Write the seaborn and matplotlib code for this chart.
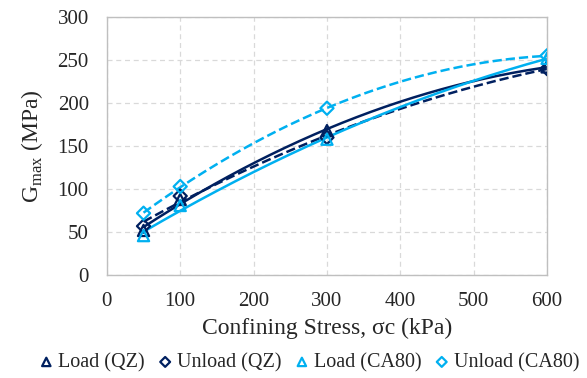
import numpy as np
import pandas as pd
import seaborn as sns
import matplotlib.pyplot as plt

stress = [50, 100, 300, 600]
load_qz = [52, 88, 168, 242]
unload_qz = [57, 92, 160, 240]
load_ca80 = [46, 81, 158, 252]
unload_ca80 = [72, 103, 194, 255]

series = ["Load (QZ)", "Unload (QZ)", "Load (CA80)", "Unload (CA80)"]
colors = ["#002060", "#002060", "#00B0F0", "#00B0F0"]
markers = ["^", "D", "^", "D"]
trend_styles = ["-", "--", "-", "--"]


def build_frame():
    df = pd.DataFrame({
        "stress": stress * 4,
        "gmax": load_qz + unload_qz + load_ca80 + unload_ca80,
        "series": np.repeat(series, len(stress)),
    })
    return df


def plot(df):
    sns.set_style("white")
    plt.rcParams["font.family"] = ["Liberation Serif", "DejaVu Serif"]

    fig = plt.figure(figsize=(5.87, 3.78), dpi=100)
    ax = fig.add_axes([0.182, 0.272, 0.750, 0.683])

    # second-order trendlines like the Excel original
    xs = np.linspace(50, 600, 200)
    for name, col, ls in zip(series, colors, trend_styles):
        sub = df[df["series"] == name]
        coef = np.polyfit(sub["stress"], sub["gmax"], 2)
        ax.plot(xs, np.polyval(coef, xs), color=col, ls=ls, lw=1.8, zorder=2)

    for name, col, m in zip(series, colors, markers):
        sub = df[df["series"] == name]
        ms = 65 if m == "^" else 45
        sns.scatterplot(data=sub, x="stress", y="gmax", marker=m, s=ms,
                        facecolor="none", edgecolor=col, linewidth=1.6,
                        label=name, ax=ax, zorder=3)

    ax.set_xlim(0, 600)
    ax.set_ylim(0, 300)
    ax.set_xticks(range(0, 601, 100))
    ax.set_yticks(range(0, 301, 50))
    ax.grid(True, ls=(0, (4, 3)), color="#d9d9d9", lw=0.9)
    for sp in ax.spines.values():
        sp.set_color("#bfbfbf")
        sp.set_linewidth(1.0)
    ax.tick_params(axis="x", labelsize=15, length=0, pad=12)
    ax.tick_params(axis="y", labelsize=15, length=0, pad=13)
    ax.set_xlabel("Confining Stress, σc (kPa)", fontsize=17, labelpad=5)
    ax.set_ylabel("G$_{\\mathregular{max}}$ (MPa)", fontsize=17, labelpad=9)

    ax.legend(loc="upper center", bbox_to_anchor=(0.445, -0.27), ncol=4,
              frameon=False, fontsize=14.5, handletextpad=-0.4,
              columnspacing=0.0, borderaxespad=0, markerscale=0.75)

    fig.savefig("out.png", dpi=100)


def main():
    df = build_frame()
    plot(df)


if __name__ == "__main__":
    main()
